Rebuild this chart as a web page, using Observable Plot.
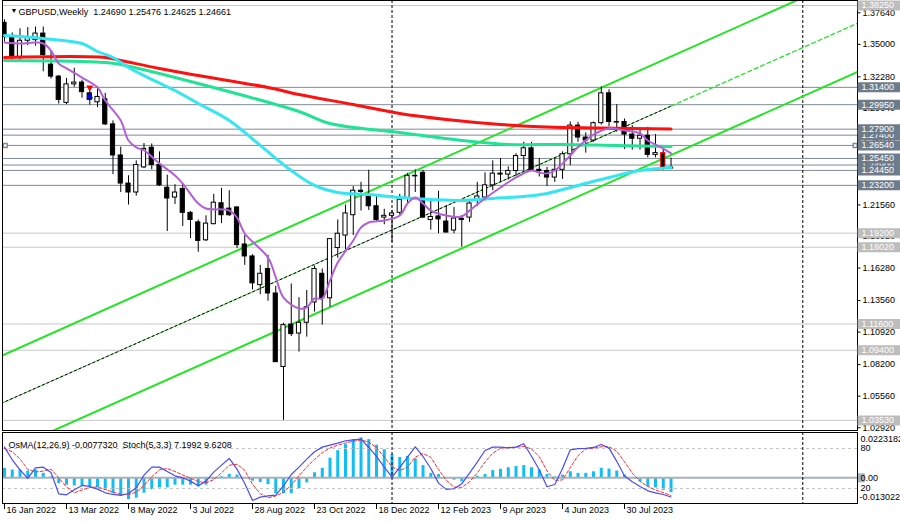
<!DOCTYPE html>
<html><head><meta charset="utf-8">
<script src="https://cdn.jsdelivr.net/npm/d3@7"></script>
<script src="https://cdn.jsdelivr.net/npm/@observablehq/plot@0.6"></script>
<style>
html,body{margin:0;padding:0;background:#fff;}
#chart{position:relative;width:900px;height:523px;overflow:hidden;background:#fff;}
#chart svg{position:absolute;left:0;max-width:none;}
</style></head><body><div id="chart"></div>
<script>
// ---------- DATA ----------
const headerText = "GBPUSD,Weekly  1.24690 1.25476 1.24625 1.24661";
const subHeaderText = "OsMA(12,26,9) -0.0077320  Stoch(5,3,3) 7.1992 9.6208";

const opens = [1.3680,1.3560,1.3395,1.3530,1.3535,1.3590,1.3330,1.3230,1.3010,1.3165,
1.3180,1.3090,1.3015,1.3040,1.2830,1.2570,1.2335,1.2260,1.2470,1.2635,
1.2490,1.2300,1.2218,1.2290,1.2090,1.2010,1.1860,1.1995,1.2170,1.2125,
1.2135,1.1825,1.1725,1.1485,1.1620,1.1415,1.0800,1.1155,1.1080,1.1170,
1.1340,1.1580,1.1375,1.1795,1.1900,1.2070,1.2275,1.2235,1.2145,1.2050,
1.2065,1.2090,1.2210,1.2400,1.2425,1.2030,1.2060,1.2017,1.1942,1.2040,
1.2050,1.2193,1.2218,1.2320,1.2418,1.2410,1.2440,1.2565,1.2630,1.2450,
1.2440,1.2385,1.2450,1.2580,1.2820,1.2720,1.2695,1.2840,1.3090,1.2845,
1.2850,1.2745,1.2710,1.2735,1.2575,1.2590,1.24690];
const highs = [1.3705,1.3595,1.3630,1.3640,1.3645,1.3645,1.3440,1.3240,1.3215,1.3300,
1.3200,1.3130,1.3145,1.3090,1.2860,1.2640,1.2400,1.2525,1.2670,1.2666,
1.2600,1.2405,1.2325,1.2330,1.2100,1.2030,1.2065,1.2245,1.2295,1.2275,
1.2140,1.1900,1.1740,1.1650,1.1735,1.1475,1.1165,1.1495,1.1380,1.1440,
1.1645,1.1620,1.1875,1.2030,1.2155,1.2310,1.2345,1.2446,1.2240,1.2120,
1.2110,1.2245,1.2420,1.2450,1.2445,1.2195,1.2270,1.2150,1.2134,1.2067,
1.2200,1.2345,1.2425,1.2525,1.2545,1.2475,1.2585,1.2680,1.2680,1.2545,
1.2470,1.2545,1.2600,1.2850,1.2848,1.2760,1.2850,1.3144,1.3120,1.2995,
1.2875,1.2820,1.2790,1.2805,1.2745,1.2625,1.25476];
const lows = [1.3520,1.3360,1.3360,1.3490,1.3485,1.3270,1.3210,1.3000,1.2995,1.3140,
1.3050,1.2990,1.2970,1.2820,1.2410,1.2260,1.2155,1.2230,1.2460,1.2450,
1.2310,1.1934,1.2160,1.1976,1.1875,1.1760,1.1850,1.1990,1.2000,1.2060,
1.1790,1.1650,1.1445,1.1405,1.1350,1.0838,1.0353,1.1055,1.0925,1.1050,
1.1260,1.1150,1.1300,1.1710,1.1780,1.1900,1.2105,1.2110,1.2015,1.1990,
1.1840,1.2070,1.2170,1.2260,1.2045,1.1945,1.1915,1.1920,1.1915,1.1802,
1.2010,1.2145,1.2190,1.2275,1.2345,1.2365,1.2395,1.2440,1.2440,1.2390,
1.2310,1.2345,1.2370,1.2485,1.2680,1.2590,1.2680,1.2825,1.2810,1.2765,
1.2620,1.2615,1.2615,1.2550,1.2550,1.2445,1.24625];
const closes = [1.3560,1.3395,1.3530,1.3560,1.3590,1.3410,1.3230,1.3035,1.3165,1.3180,
1.3100,1.3035,1.3060,1.2830,1.2570,1.2335,1.2260,1.2490,1.2625,1.2490,
1.2320,1.2210,1.2260,1.2090,1.2030,1.1855,1.2000,1.2175,1.2070,1.2070,
1.1820,1.1725,1.1500,1.1580,1.1415,1.0840,1.1150,1.1075,1.1170,1.1300,
1.1620,1.1375,1.1870,1.1915,1.2085,1.2275,1.2265,1.2145,1.2030,1.2065,
1.2085,1.2200,1.2400,1.2395,1.2050,1.2055,1.2035,1.1925,1.2042,1.2030,
1.2168,1.2227,1.2320,1.2418,1.2410,1.2440,1.2565,1.2630,1.2445,1.2440,
1.2385,1.2450,1.2580,1.2820,1.2720,1.2695,1.2840,1.3090,1.2850,1.2850,
1.2745,1.2710,1.2735,1.2575,1.2590,1.2465,1.24661];
const highlightBars = [85];

// moving averages: [bar index, price]
const maRed = [[0,1.3390],[13,1.3390],[15,1.3365],[20,1.3298],[25,1.3239],[34,1.3139],[38,1.3080],[45,1.2996],[51,1.2921],[57,1.2871],[64,1.2829],[70,1.2808],[77,1.2800],[86,1.2791]];
const maGreen = [[0,1.3365],[13,1.3348],[15,1.3331],[25,1.3172],[38,1.2938],[42,1.2838],[51,1.2762],[59,1.2695],[65,1.2662],[72,1.2662],[79,1.2653],[86,1.2645]];
const maCyan = [[0,1.3574],[5,1.3549],[10,1.3507],[12,1.3440],[14,1.3390],[16,1.3306],[19,1.3206],[22,1.3114],[25,1.3005],[29,1.2863],[33,1.2654],[37,1.2444],[40,1.2319],[43,1.2260],[47,1.2243],[51,1.2218],[55,1.2202],[59,1.2193],[63,1.2210],[67,1.2227],[70,1.2252],[74,1.2319],[78,1.2386],[82,1.2444],[86,1.2469]];
const maPurple = [[0,1.3515],[2,1.3507],[4,1.3515],[5,1.3507],[6,1.3448],[7,1.3339],[8,1.3298],[10,1.3222],[12,1.3139],[13,1.3030],[15,1.2863],[16,1.2695],[17,1.2637],[18,1.2612],[20,1.2503],[22,1.2402],[23,1.2335],[25,1.2168],[26,1.2126],[29,1.2109],[30,1.2051],[31,1.1917],[34,1.1716],[35,1.1549],[36,1.1381],[38,1.1289],[39,1.1298],[40,1.1373],[41,1.1373],[42,1.1524],[43,1.1674],[45,1.1859],[46,1.1967],[47,1.2009],[49,1.2026],[51,1.2068],[52,1.2168],[53,1.2218],[54,1.2168],[55,1.2109],[57,1.2068],[59,1.2059],[60,1.2109],[62,1.2210],[64,1.2302],[66,1.2386],[68,1.2444],[69,1.2427],[70,1.2419],[71,1.2444],[73,1.2570],[74,1.2640],[76,1.2745],[78,1.2796],[80,1.2779],[82,1.2754],[83,1.2695],[85,1.2628],[86,1.2587]];

// channel anchors [bar index, price]
const channelUpper = [[-1,1.0876],[110,1.40936]];
const channelLower = [[-1,1.00568],[110,1.32676]];
const channelMidPast = [[-1,1.04785],[86,1.29831]];
const channelMidFuture = [[86,1.29831],[110,1.36743]];

// horizontal levels (drawing order)
const levelPrices = [1.27400,1.24900,1.38250,1.31400,1.29950,1.27900,1.26540,1.25450,1.24450,1.23200,1.19200,1.18020,1.11600,1.09400,1.03530];
const levelTones = ["dark","dark","light","dark","dark","dark","dark","dark","dark","dark","light","light","light","light","light"];
const selectedLevel = 1.26540;

const priceTicks = [1.37640,1.35000,1.32280,1.29640,1.26920,1.24280,1.21560,1.18920,1.16280,1.13560,1.10920,1.08200,1.05560,1.02920];
const separators = [50,103];
const trades = [{i:11, price:1.3139, side:"sell"},{i:11, price:1.3063, side:"buy"}];

const dateLabels = ["16 Jan 2022","13 Mar 2022","8 May 2022","3 Jul 2022","28 Aug 2022","23 Oct 2022","18 Dec 2022","12 Feb 2023","9 Apr 2023","4 Jun 2023","30 Jul 2023"];
const dateIdx = [0,8,16,24,32,40,48,56,64,72,80];

const osma = [0.0049,0.0040,0.0040,0.0035,0.0040,0.0023,0.0005,-0.0030,-0.0038,-0.0042,
-0.0042,-0.0047,-0.0051,-0.0065,-0.0082,-0.0094,-0.0112,-0.0105,-0.0079,-0.0061,
-0.0052,-0.0052,-0.0038,-0.0038,-0.0038,-0.0047,-0.0038,-0.0009,0.0005,0.0017,
0.0014,-0.0003,-0.0017,-0.0024,-0.0035,-0.0082,-0.0082,-0.0082,-0.0056,-0.0026,
0.0026,0.0049,0.0101,0.0140,0.0171,0.0197,0.0206,0.0197,0.0168,0.0145,
0.0119,0.0105,0.0110,0.0098,0.0063,0.0023,0.0017,-0.0003,-0.0012,-0.0021,
-0.0003,0.0008,0.0017,0.0037,0.0044,0.0052,0.0058,0.0063,0.0052,0.0040,
0.0017,0.0005,0.0014,0.0031,0.0023,0.0023,0.0031,0.0049,0.0045,0.0035,
0.0014,-0.0003,-0.0021,-0.0047,-0.0052,-0.0065,-0.0077];
const stochK = [82,63,48,35,51,52,44,12,10.5,18,
24.5,23,19,13.5,11,9.5,12.5,21,40,52,
52,45.5,39,36,31,24,31,44.5,55,65,
49,27.5,2,7,9,10,24,41,52,64,
75,82,85,88,91.5,93,94,81.5,68,52,
37,51.6,67,82.5,68,50,28,18.6,19.6,27,
43,59.6,77,82,82,81,82,87,68.4,48,
22.5,26,50,78,79.8,80,81.5,86,80.5,60.7,
38.7,30,23,16.5,13.5,11,7.1992];
const stochD = [80,75,64.3,48.7,44.7,46,49,36,22.2,13.5,
17.7,21.8,22.2,18.5,14.5,11.3,11,14.3,24.5,37.7,
48,49.8,45.5,40.2,35.3,30.3,28.7,33.2,43.5,54.8,
56.3,47.2,26.2,12.2,6,8.7,14.3,25,39,52.3,
63.7,73.7,80.7,85,88.2,90.8,92.8,89.5,81.2,67.2,
52.3,46.9,51.9,67,72.5,66.8,48.7,32.2,22.1,21.7,
29.9,43.2,59.9,72.9,80.3,81.7,81.7,83.3,79.1,67.8,
46.3,32.2,32.8,51.3,69.3,79.3,80.4,82.5,82.7,75.7,
60,43.1,30.6,23.2,17.7,13.7,9.6208];
const stochLevels = [80,20];
const osmaMaxLabel = 0.0223182, osmaMinLabel = -0.013022;

// ---------- BUILD ----------
const candles = opens.map((o,i)=>({i, open:o, high:highs[i], low:lows[i], close:closes[i], hl: highlightBars.includes(i)}));
const levels = levelPrices.map((price,k)=>({price, tone:levelTones[k]}));
const dateTicks = dateIdx.map((i,k)=>({i, label:dateLabels[k]}));
const subRows = osma.map((v,i)=>({i, v, k:stochK[i], d:stochD[i]}));

const xDomain = [-0.258, 110.06];
const xMax = xDomain[1];
const FONT = "'Liberation Sans', Arial, sans-serif";
const lineColor = t => t==="dark" ? "#7F8B98" : "#C9C9C9";
const boxColor = t => t==="dark" ? "#6D7B8A" : "#BDBDBD";
const P = d=>d[0], V = d=>d[1];
const halfBody = 0.27;

const levelMarks = levels.flatMap(l => [
  Plot.ruleY([l], {y:"price", x1:()=>xMax+0.08, x2:()=>xMax+6, stroke:boxColor(l.tone), strokeWidth:10}),
  Plot.text([l], {x:()=>xMax, y:"price", text:d=>d.price.toFixed(5), dx:4, textAnchor:"start", fill:"#fff", fontSize:9})
]);

const main = Plot.plot({
  width:900, height:431, marginTop:0, marginBottom:1, marginLeft:2, marginRight:43,
  x:{domain:xDomain, axis:null},
  y:{domain:[1.02685,1.38668], axis:null},
  style:{background:"transparent", fontFamily:FONT, overflow:"visible"},
  marks:[
    Plot.ruleY(levels, {y:"price", stroke:d=>lineColor(d.tone), strokeWidth:1}),
    Plot.ruleX(separators, {x:d=>d, stroke:"#000", strokeDasharray:"3,2"}),
    Plot.line(channelUpper, {x:P, y:V, stroke:"#22E622", strokeWidth:2, clip:true}),
    Plot.line(channelLower, {x:P, y:V, stroke:"#22E622", strokeWidth:2, clip:true}),
    Plot.line(channelMidPast, {x:P, y:V, stroke:"#44CC44", strokeWidth:1, clip:true}),
    Plot.line(channelMidPast, {x:P, y:V, stroke:"#000", strokeWidth:1, strokeDasharray:"2,3", clip:true}),
    Plot.line(channelMidFuture, {x:P, y:V, stroke:"#22E622", strokeWidth:1.3, strokeDasharray:"4,3", clip:true}),
    Plot.ruleX(candles, {x:"i", y1:"low", y2:"high", stroke:"#000", strokeWidth:1, clip:true}),
    Plot.rect(candles, {x1:d=>d.i-halfBody, x2:d=>d.i+halfBody, y1:"open", y2:"close",
      fill:d=>d.close>=d.open?"#fff":"#000", stroke:d=>d.hl?"#f00":"#000", strokeWidth:1, clip:true}),
    Plot.ruleY(candles.filter(d=>Math.abs(d.close-d.open)<0.0004), {y:"close", x1:d=>d.i-halfBody-0.06, x2:d=>d.i+halfBody+0.06, stroke:"#000", strokeWidth:1.5}),
    Plot.line(maGreen, {x:P, y:V, stroke:"#22E296", strokeWidth:3, curve:"catmull-rom"}),
    Plot.line(maRed, {x:P, y:V, stroke:"#FF1010", strokeWidth:3, curve:"catmull-rom"}),
    Plot.line(maCyan, {x:P, y:V, stroke:"#33E6F2", strokeWidth:3, curve:"catmull-rom"}),
    Plot.line(maPurple, {x:P, y:V, stroke:"#B45FD8", strokeWidth:2, curve:"catmull-rom"}),
    Plot.dot(trades, {x:"i", y:"price", symbol:"triangle", r:2.6, fill:d=>d.side==="sell"?"#f00":"#00f", rotate:d=>d.side==="sell"?180:0}),
    Plot.dot([selectedLevel,selectedLevel], {x:(d,k)=>k===0?xDomain[0]+0.35:xMax-0.3, y:d=>d, symbol:"square", r:2.2, fill:"#fff", stroke:"#7F8B98"}),
    Plot.frame({stroke:"#000"}),
    Plot.ruleY(priceTicks, {y:d=>d, x1:()=>xMax, x2:()=>xMax+0.45, stroke:"#000"}),
    Plot.text(priceTicks, {x:()=>xMax, y:d=>d, text:d=>d.toFixed(5), dx:5, textAnchor:"start", fill:"#000", fontSize:9}),
    ...levelMarks,
    Plot.text(["\u25BC"], {text:d=>d, frameAnchor:"top-left", dx:8, dy:8, fontSize:7, textAnchor:"start"}),
    Plot.text([headerText], {text:d=>d, frameAnchor:"top-left", dx:16, dy:8, textAnchor:"start", fontSize:9})
  ]
});
main.style.top = "0px";

const osmaPlot = Plot.plot({
  width:900, height:91, marginTop:0, marginBottom:20, marginLeft:2, marginRight:43,
  x:{domain:xDomain, axis:null},
  y:{domain:[-0.01324,0.02335], axis:null},
  style:{background:"transparent", fontFamily:FONT, overflow:"visible"},
  marks:[
    Plot.ruleX(subRows, {x:"i", y1:()=>0, y2:"v", stroke:"#10BEF5", strokeWidth:3}),
    Plot.ruleY([0], {y:d=>d, stroke:"#A8B1BB", strokeWidth:2}),
    Plot.ruleY([0], {y:d=>d, x1:()=>xMax+0.05, x2:()=>xMax+1, stroke:"#A8B1BB", strokeWidth:9}),
    Plot.text(["0.00"], {x:()=>xMax, y:()=>0, text:d=>d, dx:3, textAnchor:"start", fontSize:9}),
    Plot.text([osmaMaxLabel], {x:()=>xMax, y:d=>d, text:d=>String(d), dx:3, dy:5, textAnchor:"start", fontSize:9}),
    Plot.text([osmaMinLabel], {x:()=>xMax, y:d=>d, text:d=>String(d), dx:2, dy:-6, textAnchor:"start", fontSize:9})
  ]
});
osmaPlot.style.top = "432px";

const sMin = -2.55, sMax = 103.95, sPx = 71/(sMax-sMin);
const stochPlot = Plot.plot({
  width:900, height:91, marginTop:0, marginBottom:20, marginLeft:2, marginRight:43,
  x:{domain:xDomain, axis:null},
  y:{domain:[sMin,sMax], axis:null},
  style:{background:"transparent", fontFamily:FONT, overflow:"visible"},
  marks:[
    Plot.ruleY(stochLevels, {y:d=>d, stroke:"#C4C4C4", strokeDasharray:"3,3"}),
    Plot.ruleX(separators, {x:d=>d, stroke:"#000", strokeDasharray:"3,2"}),
    Plot.line(subRows, {x:"i", y:"d", stroke:"#FF2A2A", strokeWidth:1, strokeDasharray:"3,2"}),
    Plot.line(subRows, {x:"i", y:"k", stroke:"#4B4BF2", strokeWidth:1.2}),
    Plot.frame({stroke:"#000"}),
    Plot.text(stochLevels, {x:()=>xMax, y:d=>d, text:d=>String(d), dx:3, textAnchor:"start", fontSize:9}),
    Plot.ruleX(dateTicks, {x:"i", y1:()=>sMin, y2:()=>sMin-6/sPx, stroke:"#000"}),
    Plot.text(dateTicks, {x:"i", text:"label", frameAnchor:"bottom", dy:9, dx:2, textAnchor:"start", fontSize:9}),
    Plot.text([subHeaderText], {text:d=>d, frameAnchor:"top-left", dx:6, dy:9, textAnchor:"start", fontSize:9})
  ]
});
stochPlot.style.top = "432px";

const root = document.getElementById("chart");
root.appendChild(main);
root.appendChild(osmaPlot);
root.appendChild(stochPlot);
</script></body></html>
